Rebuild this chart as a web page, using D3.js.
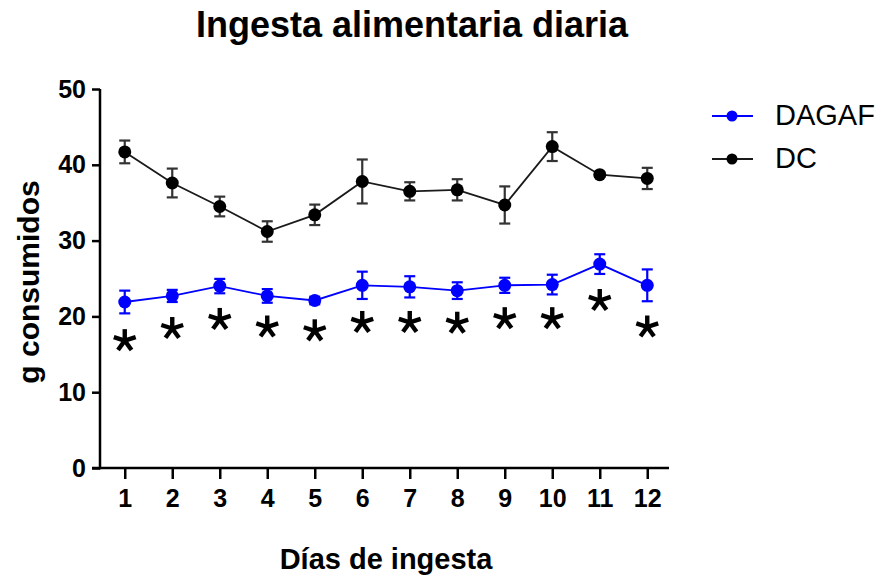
<!DOCTYPE html>
<html>
<head>
<meta charset="utf-8">
<script src="https://cdn.jsdelivr.net/npm/d3@7"></script>
<style>
  html, body { margin: 0; padding: 0; background: #fff; }
  svg { display: block; font-family: "Liberation Sans", Arial, sans-serif; }
</style>
</head>
<body>
<svg id="chart" width="882" height="577"></svg>
<script>
// Days of intake (x categories)
const days = [1, 2, 3, 4, 5, 6, 7, 8, 9, 10, 11, 12];

// Mean grams consumed and SEM per group
const dagafMean = [21.9, 22.7, 24.0, 22.7, 22.1, 24.1, 23.9, 23.4, 24.1, 24.2, 26.9, 24.1];
const dagafSem  = [1.5, 0.8, 0.95, 0.9, 0.5, 1.8, 1.4, 1.1, 1.0, 1.3, 1.3, 2.1];
const dcMean    = [41.7, 37.6, 34.5, 31.2, 33.4, 37.8, 36.5, 36.7, 34.7, 42.4, 38.7, 38.2];
const dcSem     = [1.5, 1.9, 1.3, 1.35, 1.35, 2.9, 1.2, 1.4, 2.45, 1.9, 0.3, 1.4];

// Significance marks (vertical position in g) for each day
const starLevel = [16.8, 18.4, 19.6, 18.6, 18.1, 19.2, 19.2, 19.1, 19.7, 19.7, 22.1, 18.6];

const yTicks = [0, 10, 20, 30, 40, 50];

const series = [
  { name: "DAGAF", mean: dagafMean, sem: dagafSem, color: "#0000ff", bar: "#0000ff", dot: "#0000ff" },
  { name: "DC",    mean: dcMean,    sem: dcSem,    color: "#1a1a1a", bar: "#333333", dot: "#000000" }
];

const svg = d3.select("#chart");

const x = d3.scaleLinear().domain([0.5, 12.5]).range([101, 671]);
const y = d3.scaleLinear().domain([0, 50]).range([468, 89]);

// Title
svg.append("text")
  .attr("x", 412).attr("y", 37)
  .attr("text-anchor", "middle")
  .attr("font-size", 36).attr("font-weight", "bold")
  .text("Ingesta alimentaria diaria");

// Y axis
const yAxis = svg.append("g")
  .attr("transform", "translate(100,0)")
  .call(d3.axisLeft(y).tickValues(yTicks).tickSize(8).tickPadding(6));
yAxis.select(".domain").remove();
yAxis.selectAll(".tick line").attr("stroke", "#000").attr("stroke-width", 2.5);
yAxis.selectAll(".tick text")
  .attr("font-size", 25).attr("font-weight", "bold")
  .attr("font-family", "Liberation Sans, Arial, sans-serif")
  .attr("fill", "#000");
svg.append("line")
  .attr("x1", 100).attr("x2", 100)
  .attr("y1", y(50)).attr("y2", y(0) + 1.25)
  .attr("stroke", "#000").attr("stroke-width", 2.5);

// X axis
const xAxis = svg.append("g")
  .attr("transform", "translate(0,468)")
  .call(d3.axisBottom(x).tickValues(days).tickFormat(d3.format("d")).tickSize(11).tickPadding(10));
xAxis.select(".domain").remove();
xAxis.selectAll(".tick line").attr("stroke", "#000").attr("stroke-width", 2.5);
xAxis.selectAll(".tick text")
  .attr("font-size", 25).attr("font-weight", "bold")
  .attr("font-family", "Liberation Sans, Arial, sans-serif")
  .attr("fill", "#000");
svg.append("line")
  .attr("x1", 92).attr("x2", 669)
  .attr("y1", y(0)).attr("y2", y(0))
  .attr("stroke", "#000").attr("stroke-width", 2.5);

// Axis titles
svg.append("text")
  .attr("x", 386).attr("y", 569)
  .attr("text-anchor", "middle")
  .attr("font-size", 29).attr("font-weight", "bold")
  .text("Días de ingesta");

svg.append("text")
  .attr("transform", "translate(39,282) rotate(-90)")
  .attr("text-anchor", "middle")
  .attr("font-size", 30).attr("font-weight", "bold")
  .text("g consumidos");

// Series: connecting line, error bars, markers
const line = d3.line().x((d, i) => x(days[i])).y(d => y(d));
const capHalf = 5.5;

series.forEach(s => {
  const g = svg.append("g");
  g.append("path")
    .attr("d", line(s.mean))
    .attr("fill", "none")
    .attr("stroke", s.color)
    .attr("stroke-width", 1.8);

  const eb = g.selectAll(".eb").data(days).enter().append("g");
  eb.append("line")
    .attr("x1", d => x(d)).attr("x2", d => x(d))
    .attr("y1", (d, i) => y(s.mean[i] + s.sem[i]))
    .attr("y2", (d, i) => y(s.mean[i] - s.sem[i]))
    .attr("stroke", s.bar).attr("stroke-width", 2.2);
  [1, -1].forEach(sign => {
    eb.append("line")
      .attr("x1", d => x(d) - capHalf).attr("x2", d => x(d) + capHalf)
      .attr("y1", (d, i) => y(s.mean[i] + sign * s.sem[i]))
      .attr("y2", (d, i) => y(s.mean[i] + sign * s.sem[i]))
      .attr("stroke", s.bar).attr("stroke-width", 2.2);
  });

  g.selectAll(".pt").data(days).enter().append("circle")
    .attr("cx", d => x(d))
    .attr("cy", (d, i) => y(s.mean[i]))
    .attr("r", 6.5)
    .attr("fill", s.dot);
});

// Five-armed significance marks
const armAngles = [-90, -18, 54, 126, 198].map(a => a * Math.PI / 180);
const starR = 11.5;
const stars = svg.append("g");
days.forEach((d, i) => {
  const cx = x(d), cy = y(starLevel[i]);
  armAngles.forEach(a => {
    stars.append("line")
      .attr("x1", cx).attr("y1", cy)
      .attr("x2", cx + starR * Math.cos(a))
      .attr("y2", cy + starR * Math.sin(a))
      .attr("stroke", "#000")
      .attr("stroke-width", 4.4)
      .attr("stroke-linecap", "butt");
  });
});

// Legend
const legend = svg.append("g");
series.forEach((s, i) => {
  const ly = 116 + i * 43;
  legend.append("line")
    .attr("x1", 712).attr("x2", 753)
    .attr("y1", ly).attr("y2", ly)
    .attr("stroke", s.color).attr("stroke-width", 2);
  legend.append("circle")
    .attr("cx", 732).attr("cy", ly).attr("r", 5.5)
    .attr("fill", s.dot);
  legend.append("text")
    .attr("x", 775).attr("y", ly + 9)
    .attr("font-size", 29)
    .text(s.name);
});
</script>
</body>
</html>
